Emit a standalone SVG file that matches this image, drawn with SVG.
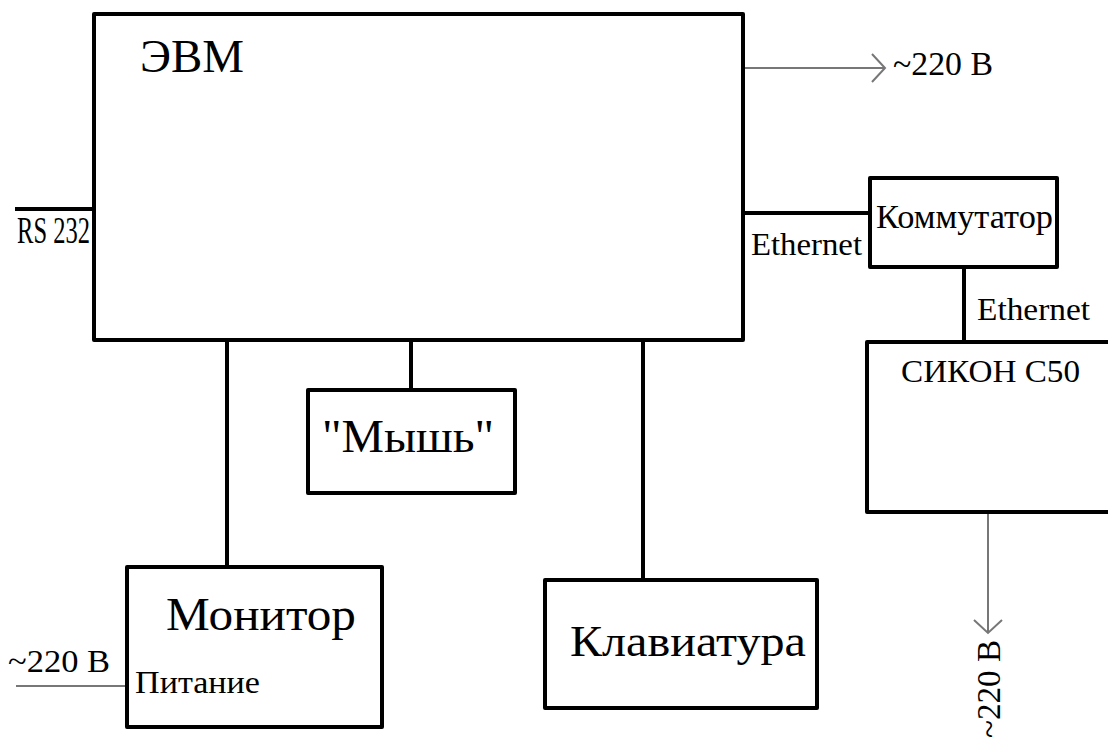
<svg xmlns="http://www.w3.org/2000/svg" width="1108" height="738" viewBox="0 0 1108 738">
<style>
.box{fill:#fff;stroke:#000;stroke-width:4;stroke-linejoin:round}
.wire{stroke:#000;stroke-width:4;fill:none}
.pwr{stroke:#777;stroke-width:2;fill:none}
text{font-family:"Liberation Serif","Times New Roman",serif;fill:#000}
</style>
<defs>
<marker id="open" viewBox="0 0 16 30" refX="14" refY="15" markerWidth="16" markerHeight="30" markerUnits="userSpaceOnUse" orient="auto">
<path d="M1,1 L14,15 L1,29" fill="none" stroke="#777" stroke-width="2"/>
</marker>
</defs>
<g id="connectors">
<line class="pwr" x1="745" y1="68" x2="885" y2="68" marker-end="url(#open)"/>
<line class="wire" x1="15" y1="209" x2="94" y2="209"/>
<line class="wire" x1="743" y1="213" x2="870" y2="213"/>
<line class="wire" x1="964" y1="267" x2="964" y2="342"/>
<line class="pwr" x1="988" y1="514" x2="988" y2="633" marker-end="url(#open)"/>
<line class="wire" x1="227" y1="340" x2="227" y2="567"/>
<line class="wire" x1="411" y1="340" x2="411" y2="390"/>
<line class="wire" x1="643" y1="340" x2="643" y2="580"/>
<line class="pwr" x1="16" y1="686" x2="127" y2="686"/>
<text x="751" y="255" font-size="32" textLength="111" lengthAdjust="spacingAndGlyphs">Ethernet</text>
<text x="977" y="320" font-size="32" textLength="113" lengthAdjust="spacingAndGlyphs">Ethernet</text>
<text x="17" y="243" font-size="37" textLength="73" lengthAdjust="spacingAndGlyphs">RS 232</text>
<text x="893" y="75" font-size="34" textLength="100" lengthAdjust="spacingAndGlyphs">~220 В</text>
<text x="8" y="672" font-size="32" textLength="102" lengthAdjust="spacingAndGlyphs">~220 В</text>
<text transform="translate(1000,738) rotate(-90)" x="0" y="0" font-size="33" textLength="98" lengthAdjust="spacingAndGlyphs">~220 В</text>
</g>
<g id="evm">
<rect class="box" x="94" y="14" width="649" height="326"/>
<text x="140" y="72" font-size="47" textLength="104" lengthAdjust="spacingAndGlyphs">ЭВМ</text>
</g>
<g id="kommutator">
<rect class="box" x="870" y="178" width="187" height="89"/>
<text x="876" y="228" font-size="33" textLength="177" lengthAdjust="spacingAndGlyphs">Коммутатор</text>
</g>
<g id="sikon">
<rect class="box" x="867" y="342" width="250" height="170"/>
<text x="901" y="382" font-size="32" textLength="179" lengthAdjust="spacingAndGlyphs">СИКОН С50</text>
</g>
<g id="mouse">
<rect class="box" x="308" y="390" width="207" height="103"/>
<text x="322" y="452" font-size="46" textLength="172" lengthAdjust="spacingAndGlyphs">"Мышь"</text>
</g>
<g id="monitor">
<rect class="box" x="127" y="567" width="255" height="160"/>
<text x="166" y="630" font-size="46" textLength="190" lengthAdjust="spacingAndGlyphs">Монитор</text>
<text x="135" y="693" font-size="32" textLength="125" lengthAdjust="spacingAndGlyphs">Питание</text>
</g>
<g id="keyboard">
<rect class="box" x="545" y="580" width="272" height="128"/>
<text x="570" y="656" font-size="45" textLength="236" lengthAdjust="spacingAndGlyphs">Клавиатура</text>
</g>
</svg>
